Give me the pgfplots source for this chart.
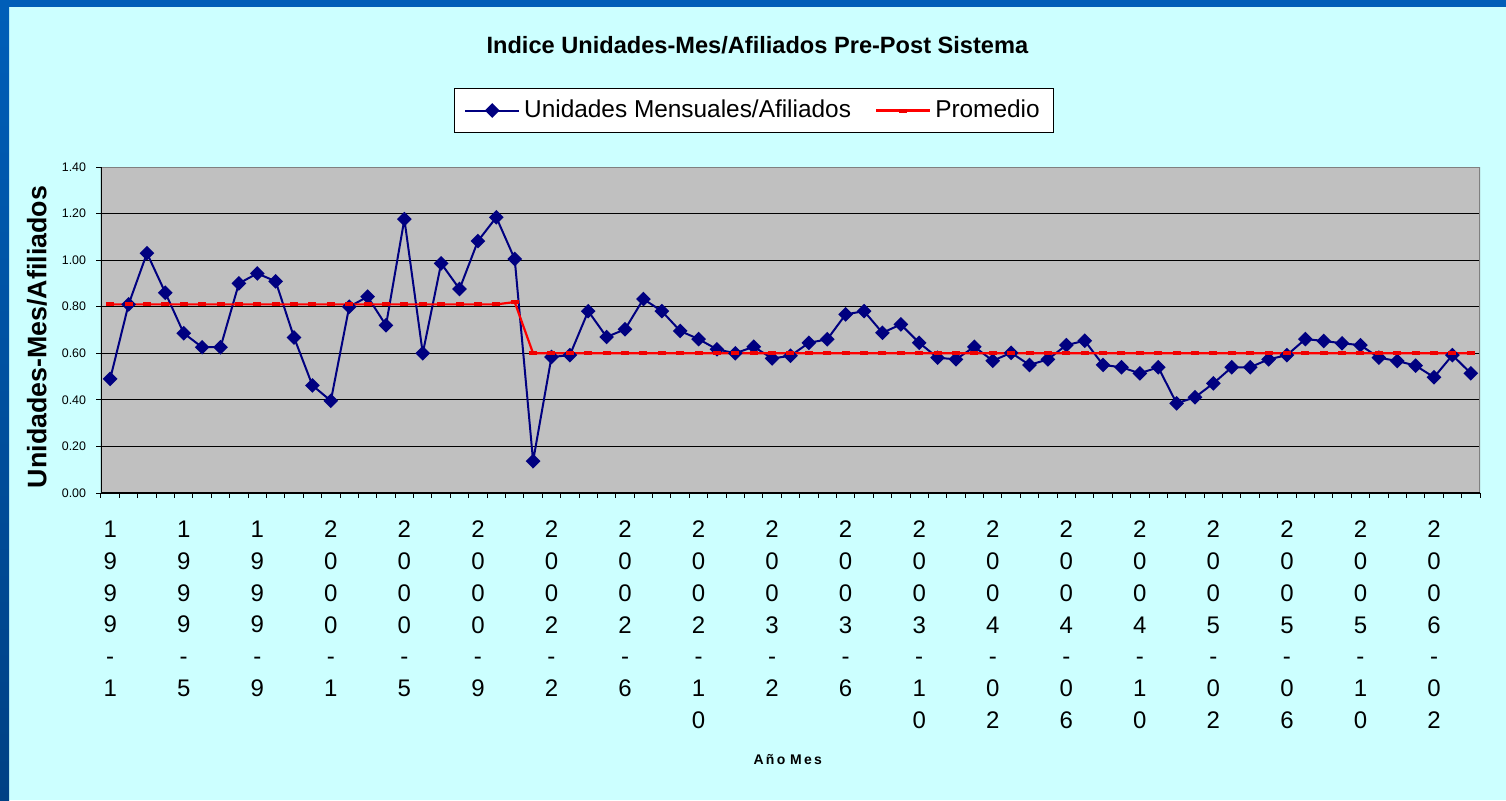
\documentclass[border=0pt]{standalone}
\usepackage{fontspec}
\setmainfont{Liberation Sans}
\usepackage{pgfplots}
\usepackage{pgfplotstable}
\pgfplotsset{compat=1.18}
\definecolor{bgc}{HTML}{CCFFFF}
\definecolor{plotg}{HTML}{C0C0C0}
\definecolor{navyb}{HTML}{000080}
\definecolor{bandtop}{HTML}{005EB8}
\definecolor{bandbot}{HTML}{004084}
\definecolor{frameg}{HTML}{808080}
\definecolor{redm}{HTML}{F00000}

\pgfplotstableread{
x y
0 0.490
1 0.810
2 1.030
3 0.860
4 0.686
5 0.626
6 0.626
7 0.900
8 0.943
9 0.909
10 0.668
11 0.462
12 0.396
13 0.800
14 0.843
15 0.720
16 1.176
17 0.600
18 0.986
19 0.876
20 1.082
21 1.184
22 1.005
23 0.137
24 0.584
25 0.592
26 0.781
27 0.670
28 0.703
29 0.833
30 0.781
31 0.696
32 0.661
33 0.617
34 0.600
35 0.628
36 0.578
37 0.589
38 0.645
39 0.660
40 0.767
41 0.781
42 0.688
43 0.724
44 0.645
45 0.581
46 0.574
47 0.628
48 0.568
49 0.602
50 0.550
51 0.574
52 0.635
53 0.654
54 0.550
55 0.540
56 0.514
57 0.540
58 0.385
59 0.411
60 0.471
61 0.540
62 0.540
63 0.574
64 0.592
65 0.661
66 0.653
67 0.643
68 0.635
69 0.581
70 0.567
71 0.547
72 0.497
73 0.592
74 0.514
}\unidades

\pgfplotstableread{
x y
0 0.81
1 0.81
2 0.81
3 0.81
4 0.81
5 0.81
6 0.81
7 0.81
8 0.81
9 0.81
10 0.81
11 0.81
12 0.81
13 0.81
14 0.81
15 0.81
16 0.81
17 0.81
18 0.81
19 0.81
20 0.81
21 0.81
22 0.82
23 0.60
24 0.60
25 0.60
26 0.60
27 0.60
28 0.60
29 0.60
30 0.60
31 0.60
32 0.60
33 0.60
34 0.60
35 0.60
36 0.60
37 0.60
38 0.60
39 0.60
40 0.60
41 0.60
42 0.60
43 0.60
44 0.60
45 0.60
46 0.60
47 0.60
48 0.60
49 0.60
50 0.60
51 0.60
52 0.60
53 0.60
54 0.60
55 0.60
56 0.60
57 0.60
58 0.60
59 0.60
60 0.60
61 0.60
62 0.60
63 0.60
64 0.60
65 0.60
66 0.60
67 0.60
68 0.60
69 0.60
70 0.60
71 0.60
72 0.60
73 0.60
74 0.60
}\promedio

\begin{document}
\begin{tikzpicture}
\path[use as bounding box] (0,0) rectangle (753pt,400pt);
\fill[bgc] (0,0) rectangle (753pt,400pt);
\fill[bandtop] (0,396.6pt) rectangle (753pt,400pt);
\shade[top color=bandtop,bottom color=bandbot] (0,0) rectangle (4.5pt,396.6pt);
\begin{axis}[
  at={(50.5pt,153.5pt)}, anchor=south west,
  scale only axis, width=689.5pt, height=163pt,
  xmin=-0.5, xmax=74.5, ymin=0, ymax=1.4,
  axis background/.style={fill=plotg},
  axis line style={draw=none},
  tick pos=left, tick align=outside,
  major tick length=2.3pt,
  tick style={black, line width=0.5pt},
  ytick={0,0.2,0.4,0.6,0.8,1.0,1.2,1.4},
  ymajorgrids, grid style={black, line width=0.5pt},
  yticklabel style={font=\fontsize{6.2}{7}\selectfont, inner sep=0pt, anchor=east, xshift=-5pt},
  /pgf/number format/.cd, fixed, fixed zerofill, precision=2, assume math mode=true,
  /pgfplots/.cd,
  xtick={-0.5,0.5,...,74.5},
  xticklabel=\empty,
  extra x ticks={0,4,8,12,16,20,24,28,32,36,40,44,48,52,56,60,64,68,72},
  extra x tick style={major tick length=0pt},
  extra x tick labels={{1\\9\\9\\9\\-\\1},{1\\9\\9\\9\\-\\5},{1\\9\\9\\9\\-\\9},{2\\0\\0\\0\\-\\1},{2\\0\\0\\0\\-\\5},{2\\0\\0\\0\\-\\9},{2\\0\\0\\2\\-\\2},{2\\0\\0\\2\\-\\6},{2\\0\\0\\2\\-\\1\\0},{2\\0\\0\\3\\-\\2},{2\\0\\0\\3\\-\\6},{2\\0\\0\\3\\-\\1\\0},{2\\0\\0\\4\\-\\0\\2},{2\\0\\0\\4\\-\\0\\6},{2\\0\\0\\4\\-\\1\\0},{2\\0\\0\\5\\-\\0\\2},{2\\0\\0\\5\\-\\0\\6},{2\\0\\0\\5\\-\\1\\0},{2\\0\\0\\6\\-\\0\\2}},
  xticklabel style={font=\fontsize{12}{15.9}\selectfont, align=center, anchor=north, inner sep=0pt, yshift=-13.8pt},
  title={Indice Unidades-Mes/Afiliados Pre-Post Sistema},
  every axis title shift=0pt,
  title style={at={(axis description cs:0.476,1.374)}, anchor=center, yshift=0pt, font=\bfseries\fontsize{11.8}{14}\selectfont},
  ylabel={Unidades-Mes/Afiliados},
  ylabel style={at={(axis description cs:-0.0464,0.4785)}, anchor=center, font=\bfseries\fontsize{13.4}{15}\selectfont},
  xlabel={A\,ñ\,o\,\,M\,e\,s},
  xlabel style={at={(axis description cs:0.498,-0.819)}, anchor=center, font=\bfseries\fontsize{7}{8}\selectfont},
  legend style={at={(axis description cs:0.4735,1.1733)}, anchor=center, legend columns=2,
    draw=black, fill=white, font=\fontsize{12.2}{14}\selectfont,
    inner xsep=5pt, inner ysep=4pt,
    /tikz/every even column/.append style={column sep=10pt}},
  legend image code/.code={\draw[mark repeat=2,mark phase=2,#1] plot coordinates {(0pt,0pt)(13.5pt,0pt)(27pt,0pt)};},
]
\addplot[navyb, line width=1pt, mark=square*, mark size=2.1pt, mark options={rotate=45, solid, fill=navyb}] table[x=x,y=y] {\unidades};
\addlegendentry{Unidades Mensuales/Afiliados}
\addplot[red, line width=1.1pt, mark=-, mark size=2pt, mark options={line width=2pt, draw=redm}] table[x=x,y=y] {\promedio};
\addlegendentry{Promedio}
\draw[frameg, line width=1pt] (rel axis cs:0,1) -- (rel axis cs:1,1) -- (rel axis cs:1,0);
\draw[black, line width=0.8pt] (rel axis cs:0,1) -- (rel axis cs:0,0) -- (rel axis cs:1,0);
\end{axis}
\end{tikzpicture}
\end{document}
